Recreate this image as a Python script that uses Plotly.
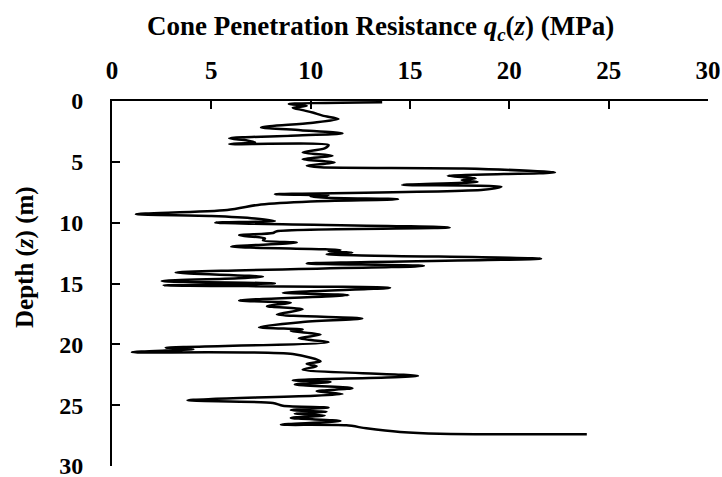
import plotly.graph_objects as go

# CPT sounding: depth below ground (m) and cone tip resistance q_c (MPa)
depth_m = [
    0.10, 0.25, 0.40, 0.55, 0.75, 0.95, 1.20, 1.48, 1.80, 2.17,
    2.40, 2.66, 2.85, 3.07, 3.25, 3.40, 3.54, 3.62, 3.90, 4.23,
    4.50, 4.78, 5.05, 5.33, 5.45, 5.55, 5.87, 6.15, 6.35, 6.50,
    6.65, 6.90, 7.03, 7.30, 7.66, 7.75, 7.85, 7.95, 8.07, 8.25,
    8.50, 8.95, 9.30, 9.45, 9.65, 9.86, 10.00, 10.40, 10.70, 10.85,
    11.04, 11.30, 11.45, 11.64, 11.97, 12.25, 12.35, 12.45, 12.60, 12.96,
    13.35, 13.55, 14.10, 14.45, 14.80, 14.99, 15.15, 15.35, 15.76, 15.95,
    16.39, 16.58, 16.86, 17.13, 17.54, 17.87, 18.18, 18.60, 18.78, 18.90,
    19.20, 19.50, 19.83, 20.29, 20.40, 20.65, 20.80, 21.40, 21.60, 21.80,
    22.07, 22.60, 22.95, 23.10, 23.30, 23.60, 23.86, 24.08, 24.60, 24.82,
    25.05, 25.20, 25.40, 25.55, 25.70, 25.85, 26.05, 26.30, 26.60, 26.66,
    26.90, 27.20, 27.35, 27.40,
]
qc_mpa = [
    13.6, 8.9, 9.8, 9.1, 9.6, 10.1, 10.6, 11.4, 10.0, 7.5,
    9.5, 11.6, 9.0, 5.9, 6.8, 7.2, 5.9, 10.9, 10.7, 9.6,
    11.1, 9.6, 11.2, 9.8, 10.5, 17.7, 22.3, 16.9, 18.3, 17.6,
    18.4, 14.6, 19.6, 18.7, 8.2, 10.9, 10.0, 10.8, 14.4, 10.0,
    7.5, 5.8, 1.2, 5.0, 7.2, 8.2, 5.2, 17.0, 8.3, 8.1,
    6.4, 7.7, 7.6, 9.3, 6.0, 11.5, 10.9, 12.1, 10.8, 21.6,
    9.8, 15.7, 3.2, 7.6, 2.5, 8.2, 2.6, 14.0, 8.6, 11.9,
    6.4, 9.0, 7.8, 9.6, 8.3, 12.6, 9.5, 7.4, 9.6, 9.0,
    10.5, 9.4, 10.9, 2.7, 4.1, 1.0, 9.1, 10.5, 9.8, 10.3,
    9.6, 15.4, 9.1, 11.0, 9.2, 12.1, 10.3, 11.6, 3.8, 8.1,
    8.6, 10.9, 9.0, 10.8, 9.2, 10.7, 9.0, 11.5, 8.5, 11.8,
    12.8, 14.5, 16.5, 23.9,
]

x_ticks = [0, 5, 10, 15, 20, 25, 30]
y_ticks = [0, 5, 10, 15, 20, 25, 30]

x_title = "Cone Penetration Resistance <i>q</i><sub><i>c</i></sub>(<i>z</i>) (MPa)"
y_title = "Depth (<i>z</i>) (m)"

FONT = "Liberation Serif, Times New Roman, serif"

fig = go.Figure(
    go.Scatter(
        x=qc_mpa,
        y=depth_m,
        mode="lines",
        line=dict(color="black", width=2.5, shape="spline", smoothing=0.8),
        showlegend=False,
        hoverinfo="x+y",
    )
)

axis_common = dict(
    showgrid=False,
    zeroline=False,
    showline=True,
    linecolor="black",
    linewidth=2,
    ticks="inside",
    ticklen=8,
    tickwidth=2,
    tickcolor="black",
    automargin=False,
    ticklabeloverflow="allow",
)

fig.update_xaxes(
    side="top",
    range=[0, 30],
    tickvals=x_ticks,
    ticktext=[str(v) for v in x_ticks],
    ticklabelstandoff=10,
    tickfont=dict(family=FONT, size=25, color="black", weight="bold"),
    **axis_common,
)
fig.update_yaxes(
    range=[30, 0],
    tickvals=y_ticks,
    ticktext=[str(v) for v in y_ticks],
    ticklabelstandoff=22,
    tickfont=dict(family=FONT, size=24, color="black", weight="bold"),
    **axis_common,
)

# axis titles placed as annotations so they can sit off the plot centre
fig.add_annotation(
    text=x_title, xref="paper", yref="paper", x=0.4497, y=1.2,
    xanchor="center", yanchor="middle", showarrow=False,
    font=dict(family=FONT, size=27, color="black", weight="bold"),
)
fig.add_annotation(
    text=y_title, xref="paper", yref="paper", x=-0.146, y=0.5726,
    xanchor="center", yanchor="middle", textangle=-90, showarrow=False,
    font=dict(family=FONT, size=25, color="black", weight="bold"),
)

fig.update_layout(
    width=722,
    height=477,
    margin=dict(l=112, r=14, t=101, b=11),
    plot_bgcolor="white",
    paper_bgcolor="white",
)

fig.write_html("out.html")
